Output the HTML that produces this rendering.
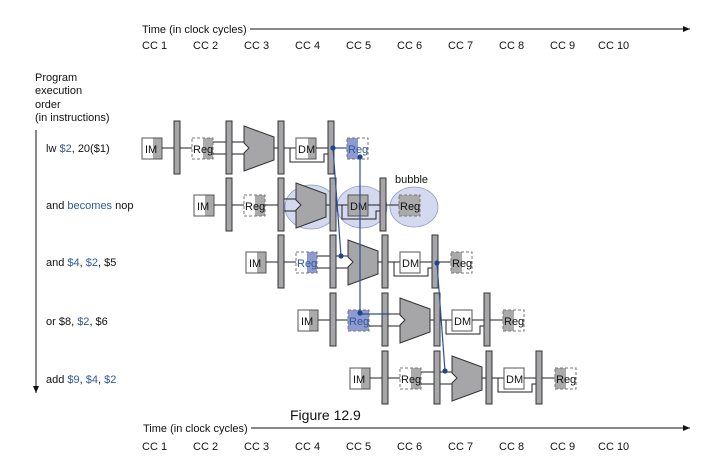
<!DOCTYPE html>
<html><head><meta charset="utf-8"><style>
html,body{margin:0;padding:0;background:#fff;}
svg{display:block;font-family:"Liberation Sans",Arial,sans-serif;}
.t{font-size:11px;fill:#111;}
.b{fill:#2f5a9a;}
.bar{fill:#a6a6a8;stroke:#333;stroke-width:1;}
.ln{stroke:#222;stroke-width:1;fill:none;}
.alu{fill:#a6a6a8;stroke:#333;stroke-width:1;}
.blue{stroke:#2a4f96;stroke-width:1.2;fill:none;}
</style></head><body>
<svg width="710" height="471" viewBox="0 0 710 471" xmlns="http://www.w3.org/2000/svg">
<defs>
<marker id="ar" markerWidth="8" markerHeight="8" refX="7" refY="3" orient="auto"><path d="M0,0 L7,3 L0,6 z" fill="#111"/></marker>
</defs>
<!-- top axis -->
<text class="t" x="142" y="33">Time (in clock cycles)</text>
<line x1="250" y1="29" x2="690" y2="29" stroke="#111" marker-end="url(#ar)"/>
<g class="t">
<text x="142" y="49">CC 1</text><text x="193" y="49">CC 2</text><text x="244" y="49">CC 3</text><text x="295" y="49">CC 4</text><text x="346" y="49">CC 5</text><text x="397" y="49">CC 6</text><text x="448" y="49">CC 7</text><text x="499" y="49">CC 8</text><text x="550" y="49">CC 9</text><text x="598" y="49">CC 10</text>
</g>
<g class="t"><text x="35" y="81">Program</text><text x="35" y="94">execution</text><text x="35" y="108">order</text><text x="35" y="121">(in instructions)</text></g>
<line x1="36" y1="130" x2="36" y2="393" stroke="#111" marker-end="url(#ar)"/>
<g class="t">
<text x="46" y="152">lw <tspan class="b">$2</tspan>, 20($1)</text>
<text x="46" y="209">and <tspan class="b">becomes</tspan> nop</text>
<text x="46" y="266">and <tspan class="b">$4</tspan>, <tspan class="b">$2</tspan>, $5</text>
<text x="46" y="325">or $8, <tspan class="b">$2</tspan>, $6</text>
<text x="46" y="383">add <tspan class="b">$9</tspan>, <tspan class="b">$4</tspan>, <tspan class="b">$2</tspan></text>
</g>

<!-- Row 1 -->
<g transform="translate(142,148)">
<rect x="0" y="-10" width="20" height="21" fill="#fff" stroke="#555"/><rect x="11" y="-9.5" width="8.5" height="20" fill="#aaa"/><text class="t" x="3" y="5">IM</text>
<line class="ln" x1="20" y1="0" x2="32" y2="0"/><rect class="bar" x="32" y="-27" width="6" height="53"/>
<line class="ln" x1="38" y1="0" x2="50" y2="0"/>
<rect x="61" y="-10" width="10" height="21" fill="#aaa"/><rect x="50" y="-10" width="21" height="21" fill="none" stroke="#777" stroke-dasharray="3,2"/><text class="t" x="51" y="5">Reg</text>
<line class="ln" x1="71" y1="-6" x2="84" y2="-6"/><line class="ln" x1="71" y1="6" x2="84" y2="6"/>
<rect class="bar" x="84" y="-27" width="6" height="53"/>
<line class="ln" x1="90" y1="-6" x2="102" y2="-6"/><line class="ln" x1="90" y1="6" x2="102" y2="6"/>
<polygon class="alu" points="102,-22 132,-11 132,12 102,23 102,5 107,0 102,-5"/>
<line class="ln" x1="132" y1="0" x2="136" y2="0"/><rect class="bar" x="136" y="-27" width="6" height="53"/>
<line class="ln" x1="142" y1="0" x2="154" y2="0"/>
<rect x="154" y="-10" width="20" height="21" fill="#fff" stroke="#555"/><rect x="166" y="-9.5" width="7.5" height="20" fill="#aaa"/><text class="t" x="156" y="5">DM</text>
<polyline class="ln" points="148,0 148,14 182,14 182,6 186,6"/>
<line class="ln" x1="174" y1="0" x2="186" y2="0"/><rect class="bar" x="186" y="-27" width="6" height="53"/>
<line class="ln" x1="192" y1="0" x2="205" y2="0"/>
<rect x="205" y="-10" width="11" height="21" fill="#8e9ad0"/><rect x="205" y="-10" width="21" height="21" fill="none" stroke="#777" stroke-dasharray="3,2"/><text class="t b" x="206" y="5">Reg</text>
</g>

<!-- Row 2 (bubble) -->
<g transform="translate(194,205)">
<rect x="0" y="-10" width="20" height="21" fill="#fff" stroke="#555"/><rect x="11" y="-9.5" width="8.5" height="20" fill="#aaa"/><text class="t" x="3" y="5">IM</text>
<line class="ln" x1="20" y1="0" x2="32" y2="0"/><rect class="bar" x="32" y="-27" width="6" height="53"/>
<line class="ln" x1="38" y1="0" x2="50" y2="0"/>
<rect x="61" y="-10" width="10" height="21" fill="#aaa"/><rect x="50" y="-10" width="21" height="21" fill="none" stroke="#777" stroke-dasharray="3,2"/><text class="t" x="51" y="5">Reg</text>
<line class="ln" x1="71" y1="0" x2="84" y2="0"/>
<rect class="bar" x="84" y="-27" width="6" height="53"/>
<g fill="#d4d9ef" stroke="#8a9ccc" stroke-width="0.8">
<ellipse cx="117" cy="2" rx="26" ry="22"/><ellipse cx="168" cy="2" rx="25" ry="21"/><ellipse cx="220" cy="2" rx="24" ry="20"/>
</g>
<line class="ln" x1="90" y1="-6" x2="102" y2="-6"/><line class="ln" x1="90" y1="6" x2="102" y2="6"/>
<polygon class="alu" points="102,-22 132,-11 132,12 102,23 102,5 107,0 102,-5"/>
<line class="ln" x1="132" y1="0" x2="136" y2="0"/><rect class="bar" x="136" y="-27" width="6" height="53"/>
<line class="ln" x1="142" y1="0" x2="154" y2="0"/>
<rect x="154" y="-10" width="20" height="21" fill="#aaa" stroke="#555"/><text class="t" x="156" y="5">DM</text>
<polyline class="ln" points="148,0 148,14 182,14 182,6 186,6"/>
<line class="ln" x1="174" y1="0" x2="186" y2="0"/><rect class="bar" x="186" y="-27" width="6" height="53"/>
<line class="ln" x1="192" y1="0" x2="205" y2="0"/>
<rect x="205" y="-10" width="21" height="21" fill="#aaa" stroke="#777" stroke-dasharray="3,2"/><text class="t" x="206" y="5">Reg</text>
<text class="t" x="201" y="-22">bubble</text>
</g>

<!-- Row 3 -->
<g transform="translate(246,262)">
<rect x="0" y="-10" width="20" height="21" fill="#fff" stroke="#555"/><rect x="11" y="-9.5" width="8.5" height="20" fill="#aaa"/><text class="t" x="3" y="5">IM</text>
<line class="ln" x1="20" y1="0" x2="32" y2="0"/><rect class="bar" x="32" y="-27" width="6" height="53"/>
<line class="ln" x1="38" y1="0" x2="50" y2="0"/>
<rect x="61" y="-10" width="10" height="21" fill="#8e9ad0"/><rect x="50" y="-10" width="21" height="21" fill="none" stroke="#777" stroke-dasharray="3,2"/><text class="t b" x="51" y="5">Reg</text>
<line class="ln" x1="71" y1="-6" x2="84" y2="-6"/><line class="ln" x1="71" y1="6" x2="84" y2="6"/>
<rect class="bar" x="84" y="-27" width="6" height="53"/>
<line class="ln" x1="90" y1="-6" x2="102" y2="-6"/><line class="ln" x1="90" y1="6" x2="102" y2="6"/>
<polygon class="alu" points="102,-22 132,-11 132,12 102,23 102,5 107,0 102,-5"/>
<line class="ln" x1="132" y1="0" x2="136" y2="0"/><rect class="bar" x="136" y="-27" width="6" height="53"/>
<line class="ln" x1="142" y1="0" x2="154" y2="0"/>
<rect x="154" y="-10" width="20" height="21" fill="#fff" stroke="#555"/><text class="t" x="156" y="5">DM</text>
<polyline class="ln" points="148,0 148,14 182,14 182,6 186,6"/>
<line class="ln" x1="174" y1="0" x2="186" y2="0"/><rect class="bar" x="186" y="-27" width="6" height="53"/>
<line class="ln" x1="192" y1="0" x2="205" y2="0"/>
<rect x="205" y="-10" width="11" height="21" fill="#aaa"/><rect x="205" y="-10" width="21" height="21" fill="none" stroke="#777" stroke-dasharray="3,2"/><text class="t" x="206" y="5">Reg</text>
</g>

<!-- Row 4 -->
<g transform="translate(298,320)">
<rect x="0" y="-10" width="20" height="21" fill="#fff" stroke="#555"/><rect x="11" y="-9.5" width="8.5" height="20" fill="#aaa"/><text class="t" x="3" y="5">IM</text>
<line class="ln" x1="20" y1="0" x2="32" y2="0"/><rect class="bar" x="32" y="-27" width="6" height="53"/>
<line class="ln" x1="38" y1="0" x2="50" y2="0"/>
<rect x="50" y="-10" width="21" height="21" fill="#8e9ad0"/><rect x="50" y="-10" width="21" height="21" fill="none" stroke="#777" stroke-dasharray="3,2"/><text class="t b" x="51" y="5">Reg</text>
<line class="ln" x1="71" y1="-6" x2="84" y2="-6"/><line class="ln" x1="71" y1="6" x2="84" y2="6"/>
<rect class="bar" x="84" y="-27" width="6" height="53"/>
<line class="ln" x1="90" y1="-6" x2="102" y2="-6"/><line class="ln" x1="90" y1="6" x2="102" y2="6"/>
<polygon class="alu" points="102,-22 132,-11 132,12 102,23 102,5 107,0 102,-5"/>
<line class="ln" x1="132" y1="0" x2="136" y2="0"/><rect class="bar" x="136" y="-27" width="6" height="53"/>
<line class="ln" x1="142" y1="0" x2="154" y2="0"/>
<rect x="154" y="-10" width="20" height="21" fill="#fff" stroke="#555"/><text class="t" x="156" y="5">DM</text>
<polyline class="ln" points="148,0 148,14 182,14 182,6 186,6"/>
<line class="ln" x1="174" y1="0" x2="186" y2="0"/><rect class="bar" x="186" y="-27" width="6" height="53"/>
<line class="ln" x1="192" y1="0" x2="205" y2="0"/>
<rect x="205" y="-10" width="11" height="21" fill="#aaa"/><rect x="205" y="-10" width="21" height="21" fill="none" stroke="#777" stroke-dasharray="3,2"/><text class="t" x="206" y="5">Reg</text>
</g>

<!-- Row 5 -->
<g transform="translate(350,378)">
<rect x="0" y="-10" width="20" height="21" fill="#fff" stroke="#555"/><rect x="11" y="-9.5" width="8.5" height="20" fill="#aaa"/><text class="t" x="3" y="5">IM</text>
<line class="ln" x1="20" y1="0" x2="32" y2="0"/><rect class="bar" x="32" y="-27" width="6" height="53"/>
<line class="ln" x1="38" y1="0" x2="50" y2="0"/>
<rect x="61" y="-10" width="10" height="21" fill="#aaa"/><rect x="50" y="-10" width="21" height="21" fill="none" stroke="#777" stroke-dasharray="3,2"/><text class="t" x="51" y="5">Reg</text>
<line class="ln" x1="71" y1="-6" x2="84" y2="-6"/><line class="ln" x1="71" y1="6" x2="84" y2="6"/>
<rect class="bar" x="84" y="-27" width="6" height="53"/>
<line class="ln" x1="90" y1="-6" x2="102" y2="-6"/><line class="ln" x1="90" y1="6" x2="102" y2="6"/>
<polygon class="alu" points="102,-22 132,-11 132,12 102,23 102,5 107,0 102,-5"/>
<line class="ln" x1="132" y1="0" x2="136" y2="0"/><rect class="bar" x="136" y="-27" width="6" height="53"/>
<line class="ln" x1="142" y1="0" x2="154" y2="0"/>
<rect x="154" y="-10" width="20" height="21" fill="#fff" stroke="#555"/><text class="t" x="156" y="5">DM</text>
<polyline class="ln" points="148,0 148,14 182,14 182,6 186,6"/>
<line class="ln" x1="174" y1="0" x2="186" y2="0"/><rect class="bar" x="186" y="-27" width="6" height="53"/>
<line class="ln" x1="192" y1="0" x2="205" y2="0"/>
<rect x="205" y="-10" width="11" height="21" fill="#aaa"/><rect x="205" y="-10" width="21" height="21" fill="none" stroke="#777" stroke-dasharray="3,2"/><text class="t" x="206" y="5">Reg</text>
</g>

<!-- forwarding -->
<g class="blue">
<line x1="333" y1="148" x2="347" y2="148"/>
<line x1="333" y1="148" x2="341" y2="256"/>
<line x1="360" y1="157" x2="360" y2="313"/>
<line x1="360" y1="314" x2="388" y2="314"/>
<line x1="437" y1="263" x2="445" y2="371"/>
</g>
<g fill="#1f4591">
<circle cx="333" cy="148" r="2.6"/><circle cx="360" cy="157" r="2.6"/><circle cx="341" cy="256" r="2.6"/><circle cx="360" cy="313" r="2.6"/><circle cx="437" cy="263" r="2.6"/><circle cx="445" cy="371" r="2.6"/>
</g>

<text x="290" y="420" style="font-size:14px" fill="#111">Figure 12.9</text>
<text class="t" x="143" y="432">Time (in clock cycles)</text>
<line x1="251" y1="428" x2="690" y2="428" stroke="#111" marker-end="url(#ar)"/>
<g class="t">
<text x="142" y="450">CC 1</text><text x="193" y="450">CC 2</text><text x="244" y="450">CC 3</text><text x="295" y="450">CC 4</text><text x="346" y="450">CC 5</text><text x="397" y="450">CC 6</text><text x="448" y="450">CC 7</text><text x="499" y="450">CC 8</text><text x="550" y="450">CC 9</text><text x="598" y="450">CC 10</text>
</g>
</svg>
</body></html>
